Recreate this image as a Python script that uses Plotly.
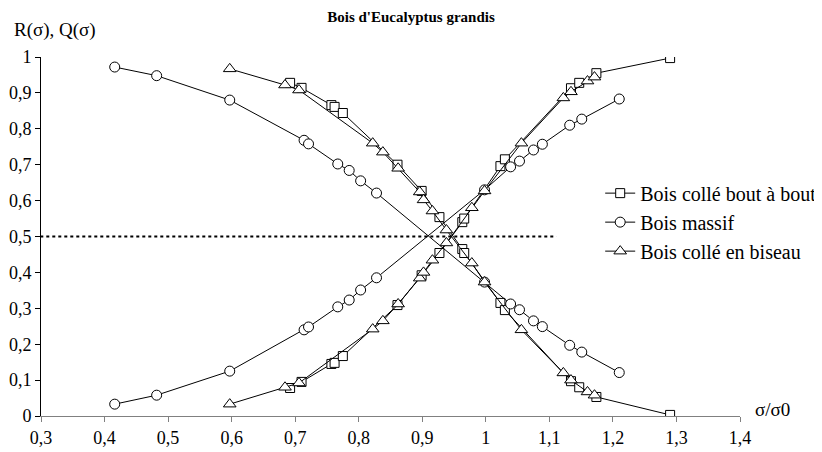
import plotly.graph_objs as go

# Bois collé bout à bout (carrés)
x_bout = [0.692, 0.71, 0.757, 0.762, 0.775, 0.861, 0.899, 0.927, 0.963, 0.966, 1.023, 1.03, 1.134, 1.147, 1.174, 1.29]
q_bout = [0.928, 0.914, 0.866, 0.861, 0.844, 0.700, 0.627, 0.554, 0.465, 0.454, 0.315, 0.295, 0.097, 0.080, 0.053, 0.003]
r_bout = [0.078, 0.095, 0.145, 0.148, 0.167, 0.309, 0.392, 0.454, 0.540, 0.550, 0.696, 0.715, 0.913, 0.928, 0.955, 0.997]

# Bois massif (cercles)
x_massif = [0.416, 0.482, 0.597, 0.714, 0.721, 0.767, 0.785, 0.803, 0.828, 0.998, 1.039, 1.053, 1.075, 1.089, 1.132, 1.151, 1.21]
q_massif = [0.972, 0.948, 0.880, 0.768, 0.758, 0.702, 0.684, 0.655, 0.621, 0.373, 0.312, 0.296, 0.265, 0.249, 0.197, 0.178, 0.121]
r_massif = [0.033, 0.058, 0.125, 0.240, 0.248, 0.304, 0.323, 0.351, 0.385, 0.630, 0.694, 0.710, 0.741, 0.757, 0.810, 0.827, 0.883]

# Bois collé en biseau (triangles)
x_biseau = [0.597, 0.684, 0.706, 0.822, 0.838, 0.862, 0.896, 0.902, 0.916, 0.938, 0.978, 0.998, 1.056, 1.122, 1.134, 1.16, 1.171]
q_biseau = [0.967, 0.922, 0.908, 0.760, 0.735, 0.690, 0.624, 0.602, 0.571, 0.518, 0.426, 0.373, 0.240, 0.120, 0.100, 0.067, 0.058]
r_biseau = [0.033, 0.080, 0.092, 0.242, 0.265, 0.312, 0.384, 0.400, 0.434, 0.482, 0.580, 0.627, 0.760, 0.886, 0.903, 0.933, 0.944]

x_ticks = [0.3, 0.4, 0.5, 0.6, 0.7, 0.8, 0.9, 1.0, 1.1, 1.2, 1.3, 1.4]
y_ticks = [0, 0.1, 0.2, 0.3, 0.4, 0.5, 0.6, 0.7, 0.8, 0.9, 1.0]

FONT = "Liberation Serif, Times New Roman, serif"

fig = go.Figure()

series = [
    ("Bois collé bout à bout", x_bout, q_bout, r_bout, "square", 9),
    ("Bois massif", x_massif, q_massif, r_massif, "circle", 10),
    ("Bois collé en biseau", x_biseau, q_biseau, r_biseau, "triangle-up", 11),
]

# Q (décroissant) et R (croissant) dans une seule trace, séparées par None
for name, xs, qs, rs, sym, size in series:
    fig.add_trace(go.Scatter(
        x=xs + [None] + xs, y=qs + [None] + rs, name=name, mode="lines+markers",
        line=dict(color="black", width=1),
        marker=dict(symbol=sym, size=size, color="white", line=dict(color="black", width=1)),
    ))

# ligne pointillée à 0,5
fig.add_shape(type="line", x0=0.28, x1=1.111, y0=0.5, y1=0.5, xref="x", yref="y",
              line=dict(color="black", width=2, dash="dot"))

# la page a une marge de 8 px autour du graphique ; figure un peu plus large
# pour que la légende ne soit pas coupée, sans expansion des marges
fig.update_layout(
    width=830, height=452,
    margin=dict(l=33, r=98, t=49, b=44, autoexpand=False),
    plot_bgcolor="white", paper_bgcolor="white",
    separators=", ",
    font=dict(family=FONT, size=18, color="black"),
    title=dict(text="<b>Bois d'Eucalyptus grandis</b>", x=(411 - 8) / 830, xanchor="center", y=0.992, yanchor="top",
               font=dict(family=FONT, size=15, color="black")),
    legend=dict(x=0.80, xanchor="left", y=0.54, yanchor="middle",
                bgcolor="rgba(0,0,0,0)", font=dict(family=FONT, size=20), tracegroupgap=0),
    xaxis=dict(range=[0.3, 1.4], tickmode="array", tickvals=x_ticks, showgrid=False, zeroline=False,
               showline=True, linecolor="#808080", linewidth=1, ticks="outside", ticklen=5,
               tickcolor="#808080", tickfont=dict(size=18)),
    yaxis=dict(range=[0, 1], tickmode="array", tickvals=y_ticks, showgrid=False, zeroline=False,
               showline=True, linecolor="black", linewidth=1, ticks="outside", ticklen=5,
               tickcolor="black", tickfont=dict(size=18)),
)

fig.add_annotation(text="R(σ), Q(σ)", xref="paper", yref="paper", x=-0.0415, y=1.075,
                   xanchor="left", yanchor="middle", showarrow=False, font=dict(size=19))
fig.add_annotation(text="σ/σ0", xref="paper", yref="paper", x=1.0186, y=0.017,
                   xanchor="left", yanchor="middle", showarrow=False, font=dict(size=19))

fig.write_html("out.html")
